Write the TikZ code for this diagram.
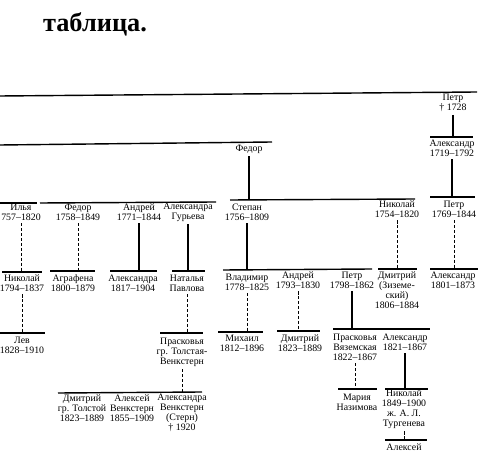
\documentclass[tikz,border=0pt]{standalone}
\usepackage{fontspec}
\setmainfont{Liberation Serif}
\usepackage{tikz}

\begin{document}
\begin{tikzpicture}[x=0.02cm,y=-0.02cm,
    person/.style={align=center,inner sep=1.5pt,font=\fontsize{5.6}{5.7}\selectfont},
    bar/.style={line width=.8pt},
    kin/.style={line width=.6pt},
    lost/.style={line width=.45pt,dash pattern=on 1.8pt off 1pt}]
    \useasboundingbox (0,0) rectangle (500,455);

    \node[font=\fontsize{15}{18}\selectfont\bfseries] (title) at (95,24) {таблица.};

    \node[person] (petr1) at (453,103) {Петр\\† 1728};
    \node[person] (alex1) at (452,148) {Александр\\1719–1792};
    \node[person] (fedor1) at (249,149) {Федор};

    \node[person] (ilya) at (21,212) {Илья\\757–1820};
    \node[person] (fedor2) at (78,212) {Федор\\1758–1849};
    \node[person] (andrey1) at (139,212) {Андрей\\1771–1844};
    \node[person] (alexandra1) at (188,212) {Александра\\Гурьева};
    \node[person] (stepan) at (247,212) {Степан\\1756–1809};
    \node[person] (nikolay1) at (397,209) {Николай\\1754–1820};
    \node[person] (petr2) at (454,209) {Петр\\1769–1844};

    \node[person] (nikolay2) at (22,283) {Николай\\1794–1837};
    \node[person] (agrafena) at (73,283) {Аграфена\\1800–1879};
    \node[person] (alexandra2) at (133,283) {Александра\\1817–1904};
    \node[person] (natalya) at (187,283) {Наталья\\Павлова};
    \node[person] (vladimir) at (247,282) {Владимир\\1778–1825};
    \node[person] (andrey2) at (298,280) {Андрей\\1793–1830};
    \node[person] (petr3) at (352,280) {Петр\\1798–1862};
    \node[person] (dmitry1) at (397,290) {Дмитрий\\(Зиземе-\\ский)\\1806–1884};
    \node[person] (alex2) at (453,280) {Александр\\1801–1873};

    \node[person] (lev) at (22,345) {Лев\\1828–1910};
    \node[person] (praskovya1) at (182,352) {Прасковья\\гр. Толстая-\\Венкстерн};
    \node[person] (mikhail) at (242,343) {Михаил\\1812–1896};
    \node[person] (dmitry2) at (300,343) {Дмитрий\\1823–1889};
    \node[person] (praskovya2) at (355,347) {Прасковья\\Вяземская\\1822–1867};
    \node[person] (alex3) at (405,342) {Александр\\1821–1867};

    \node[person] (dmitry3) at (82,408) {Дмитрий\\гр. Толстой\\1823–1889};
    \node[person] (aleksey1) at (132,408) {Алексей\\Венкстерн\\1855–1909};
    \node[person] (alexandra3) at (182,413) {Александра\\Венкстерн\\(Стерн)\\† 1920};
    \node[person] (mariya) at (357,402) {Мария\\Назимова};
    \node[person] (nikolay3) at (404,409) {Николай\\1849–1900\\ж. А. Л.\\Тургенева};
    \node[person] (aleksey2) at (404,447) {Алексей};

    \draw[bar] (0,96) -- (477,92);
    \draw[bar] (0,145) -- (272,142);
    \draw[bar] (430,137) coordinate (alexbar) -- (473,137);

    \draw[bar] (0,203) -- (37,203);
    \draw[bar] (40,203) -- (216,202);
    \draw[bar] (230,200) coordinate (stepanbar) -- (415,199);
    \draw[bar] (430,197) coordinate (petrbar) -- (475,197);

    \draw[bar] (2,272) coordinate (nikbar) -- (42,272);
    \draw[bar] (50,271) coordinate (agrbar) -- (95,271);
    \draw[bar] (110,271) coordinate (alxbar) -- (157,271);
    \draw[bar] (172,271) coordinate (natbar) -- (205,271);
    \draw[bar] (223,270) coordinate (vladbar) -- (372,269);
    \draw[bar] (378,269) coordinate (dmbar) -- (417,269);
    \draw[bar] (430,269) coordinate (alex2bar) -- (478,269);

    \draw[bar] (0,333) coordinate (levbar) -- (45,333);
    \draw[bar] (160,333) coordinate (prbar) -- (203,333);
    \draw[bar] (218,332) coordinate (mixbar) -- (263,332);
    \draw[bar] (277,331) coordinate (dm2bar) -- (320,331);
    \draw[bar] (333,329) coordinate (pr2bar) -- (430,329);

    \draw[bar] (58,393) coordinate (dm3bar) -- (202,392);
    \draw[bar] (338,389) coordinate (marbar) -- (377,389);
    \draw[bar] (385,389) coordinate (nik3bar) -- (428,389);
    \draw[bar] (385,440) coordinate (alekbar) -- (427,440);

    \draw[kin] (petr1) -- (petr1 |- alexbar);
    \draw[kin] (alex1) -- (alex1 |- petrbar);
    \draw[kin] (fedor1) -- (fedor1 |- stepanbar);

    \draw[lost] (ilya) -- (ilya |- nikbar);
    \draw[lost] (fedor2) -- (fedor2 |- agrbar);
    \draw[kin] (andrey1) -- (andrey1 |- alxbar);
    \draw[kin] (alexandra1) -- (alexandra1 |- natbar);
    \draw[kin] (stepan) -- (stepan |- vladbar);
    \draw[lost] (nikolay1) -- (nikolay1 |- dmbar);
    \draw[lost] (petr2) -- (petr2 |- alex2bar);

    \draw[lost] (nikolay2) -- (nikolay2 |- levbar);
    \draw[lost] (natalya) -- (natalya |- prbar);
    \draw[lost] (vladimir) -- (vladimir |- mixbar);
    \draw[lost] (andrey2) -- (andrey2 |- dm2bar);
    \draw[kin] (petr3) -- (petr3 |- pr2bar);

    \draw[lost] (praskovya1) -- (praskovya1 |- dm3bar);
    \draw[lost] (praskovya2) -- (praskovya2 |- marbar);
    \draw[kin] (alex3) -- (alex3 |- nik3bar);
    \draw[lost] (nikolay3) -- (nikolay3 |- alekbar);
\end{tikzpicture}
\end{document}
